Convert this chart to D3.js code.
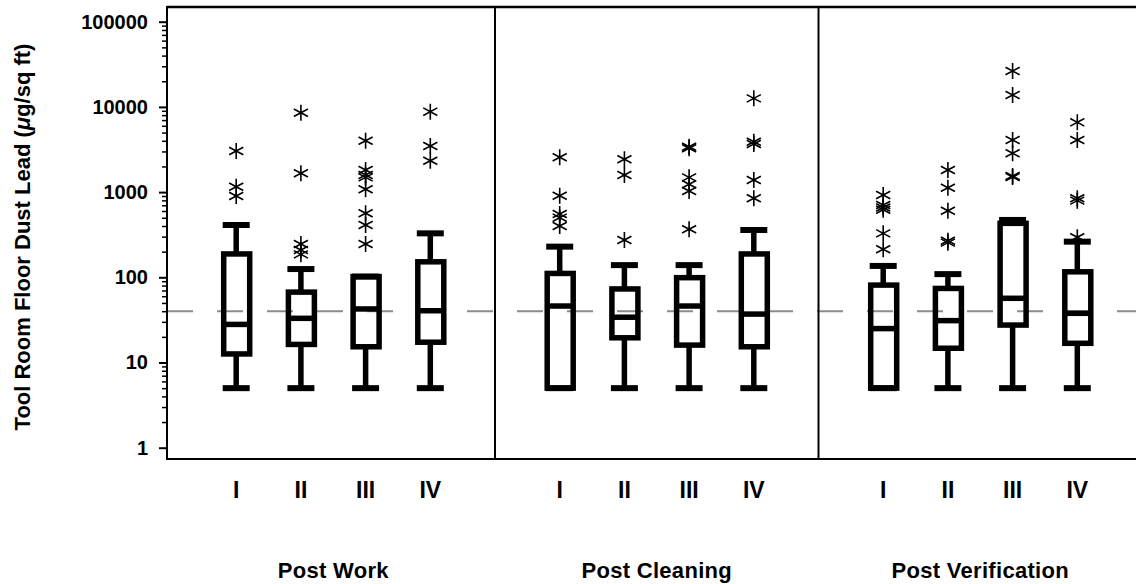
<!DOCTYPE html>
<html>
<head>
<meta charset="utf-8">
<script src="https://cdn.jsdelivr.net/npm/d3@7"></script>
<style>
  html, body { margin: 0; padding: 0; background: #fff; }
  svg { display: block; font-family: Arial, "Liberation Sans", sans-serif; }
</style>
</head>
<body>
<svg id="chart" width="1136" height="584"></svg>
<script>
// ---------------- DATA ----------------
const groups = ["Post Work", "Post Cleaning", "Post Verification"];
const categories = ["I", "II", "III", "IV"];
const yTickValues = [1, 10, 100, 1000, 10000, 100000];
const referenceLevel = 40;

// box statistics per group (rows) and category (columns)
const whiskerLow = [
  [5, 5, 5, 5],
  [5, 5, 5, 5],
  [5, 5, 5, 5]
];
const q1 = [
  [12.6, 16.3, 15.3, 17.3],
  [5, 19.5, 16, 15.3],
  [5, 14.7, 27.5, 16.8]
];
const median = [
  [28, 33, 42.5, 40.5],
  [46, 34, 46, 37],
  [25, 31, 56.7, 37.8]
];
const q3 = [
  [188, 67, 102, 152],
  [111, 73, 99, 188],
  [81, 74, 430, 116]
];
const whiskerHigh = [
  [411, 125, 102, 328],
  [229, 139, 139, 359],
  [136, 109, 471, 262]
];
const outliers = [
  [[3036, 1157, 900], [8550, 1663, 246, 209, 186], [4010, 1817, 1585, 1490, 1079, 564, 411, 246], [8790, 3476, 2338]],
  [[2560, 907, 553, 501, 400], [2427, 1585, 274], [3410, 3268, 1490, 1236, 1030, 366], [12600, 3906, 3670, 1387, 846]],
  [[925, 706, 660, 620, 328, 213], [1817, 1126, 605, 269, 255], [26400, 13800, 4090, 2853, 1545, 1500], [6590, 4090, 846, 794, 295]]
];

// ---------------- LAYOUT ----------------
const W = 1136, H = 584;
const axisX = 167, plotTop = 7, plotBottom = 459;
const svg = d3.select("#chart");

const y = d3.scaleLog()
  .domain([Math.pow(10, -(plotBottom - 447.7) / 85.2), Math.pow(10, (447.7 - plotTop) / 85.2)])
  .range([plotBottom, plotTop]);

const slotsPerGroup = categories.length + 1;
const x = d3.scaleLinear()
  .domain([0, groups.length * slotsPerGroup])
  .range([171.5, 171.5 + groups.length * slotsPerGroup * 64.7]);
const pos = (g, c) => x(g * slotsPerGroup + c + 1);

// reference dashed line (behind)
svg.append("line")
  .attr("x1", axisX).attr("x2", W)
  .attr("y1", y(referenceLevel)).attr("y2", y(referenceLevel))
  .attr("stroke", "#8c8c8c").attr("stroke-width", 2)
  .attr("stroke-dasharray", "26,24");

// frame: top line, bottom line, panel dividers
svg.append("line").attr("x1", axisX).attr("x2", W).attr("y1", plotTop).attr("y2", plotTop)
  .attr("stroke", "#000").attr("stroke-width", 2.5);
svg.append("line").attr("x1", axisX).attr("x2", W).attr("y1", plotBottom).attr("y2", plotBottom)
  .attr("stroke", "#000").attr("stroke-width", 2);
for (let g = 1; g < groups.length; g++) {
  svg.append("line")
    .attr("x1", x(g * slotsPerGroup)).attr("x2", x(g * slotsPerGroup))
    .attr("y1", plotTop).attr("y2", plotBottom)
    .attr("stroke", "#000").attr("stroke-width", 2);
}

// Y axis
const minorTicks = [];
for (let k = 0; k < 5; k++) for (let m = 2; m <= 9; m++) minorTicks.push(m * Math.pow(10, k));
const yAxisMinor = d3.axisLeft(y).tickValues(minorTicks).tickSize(5).tickFormat("");
const yAxisMajor = d3.axisLeft(y).tickValues(yTickValues).tickSize(8).tickPadding(11).tickFormat(d3.format("d"));
const gMinor = svg.append("g").attr("transform", `translate(${axisX},0)`).call(yAxisMinor);
gMinor.select(".domain").remove();
gMinor.selectAll("line").attr("stroke", "#000").attr("stroke-width", 1.5);
const gMajor = svg.append("g").attr("transform", `translate(${axisX},0)`).call(yAxisMajor);
gMajor.select(".domain").remove();
gMajor.selectAll("line").attr("stroke", "#000").attr("stroke-width", 2);
gMajor.selectAll("text")
  .attr("font-family", "Arial, 'Liberation Sans', sans-serif")
  .attr("font-size", 20).attr("font-weight", "bold").attr("fill", "#000");
svg.append("line").attr("x1", axisX).attr("x2", axisX).attr("y1", plotTop - 1).attr("y2", plotBottom + 1)
  .attr("stroke", "#000").attr("stroke-width", 2);

// Y title
const yt = svg.append("text")
  .attr("transform", `translate(29.5,237) rotate(-90)`)
  .attr("text-anchor", "middle")
  .attr("font-size", 22).attr("font-weight", "bold").attr("fill", "#000");
yt.append("tspan").text("Tool Room Floor Dust Lead (");
yt.append("tspan").attr("font-style", "italic").text("μ");
yt.append("tspan").text("g/sq ft)");

// asterisk marker
function star(sel, cx, cy) {
  const r = 8, a = 28 * Math.PI / 180;
  const dx = r * Math.cos(a), dy = r * Math.sin(a);
  sel.append("path")
    .attr("d", `M${cx},${cy - r}L${cx},${cy + r}M${cx - dx},${cy - dy}L${cx + dx},${cy + dy}M${cx - dx},${cy + dy}L${cx + dx},${cy - dy}`)
    .attr("stroke", "#000").attr("stroke-width", 1.6).attr("fill", "none");
}

// boxes
const boxW = 26, capW = 27, sw = 5.5;
groups.forEach((gName, g) => {
  categories.forEach((cName, c) => {
    const cx = pos(g, c);
    const gb = svg.append("g");
    // whiskers
    gb.append("line").attr("x1", cx).attr("x2", cx)
      .attr("y1", y(whiskerLow[g][c])).attr("y2", y(q1[g][c]))
      .attr("stroke", "#000").attr("stroke-width", sw);
    gb.append("line").attr("x1", cx).attr("x2", cx)
      .attr("y1", y(q3[g][c])).attr("y2", y(whiskerHigh[g][c]))
      .attr("stroke", "#000").attr("stroke-width", sw);
    // caps
    [whiskerLow[g][c], whiskerHigh[g][c]].forEach(v => {
      gb.append("line").attr("x1", cx - capW / 2).attr("x2", cx + capW / 2)
        .attr("y1", y(v)).attr("y2", y(v))
        .attr("stroke", "#000").attr("stroke-width", 6);
    });
    // box
    gb.append("rect")
      .attr("x", cx - boxW / 2 + 0.5).attr("width", boxW)
      .attr("y", y(q3[g][c])).attr("height", y(q1[g][c]) - y(q3[g][c]))
      .attr("fill", "none").attr("stroke", "#000").attr("stroke-width", sw);
    // median
    gb.append("line").attr("x1", cx - boxW / 2 + 0.5).attr("x2", cx + boxW / 2 + 0.5)
      .attr("y1", y(median[g][c])).attr("y2", y(median[g][c]))
      .attr("stroke", "#000").attr("stroke-width", sw);
    // outliers
    outliers[g][c].forEach(v => star(gb, cx, y(v)));
    // category label
    svg.append("text").attr("x", cx).attr("y", 498)
      .attr("text-anchor", "middle").attr("font-size", 23).attr("font-weight", "bold")
      .attr("fill", "#000").text(cName);
  });
  svg.append("text")
    .attr("x", x(g * slotsPerGroup + slotsPerGroup / 2)).attr("y", 578)
    .attr("text-anchor", "middle").attr("font-size", 22).attr("font-weight", "bold")
    .attr("letter-spacing", 0.3)
    .attr("fill", "#000").text(gName);
});
</script>
</body>
</html>
